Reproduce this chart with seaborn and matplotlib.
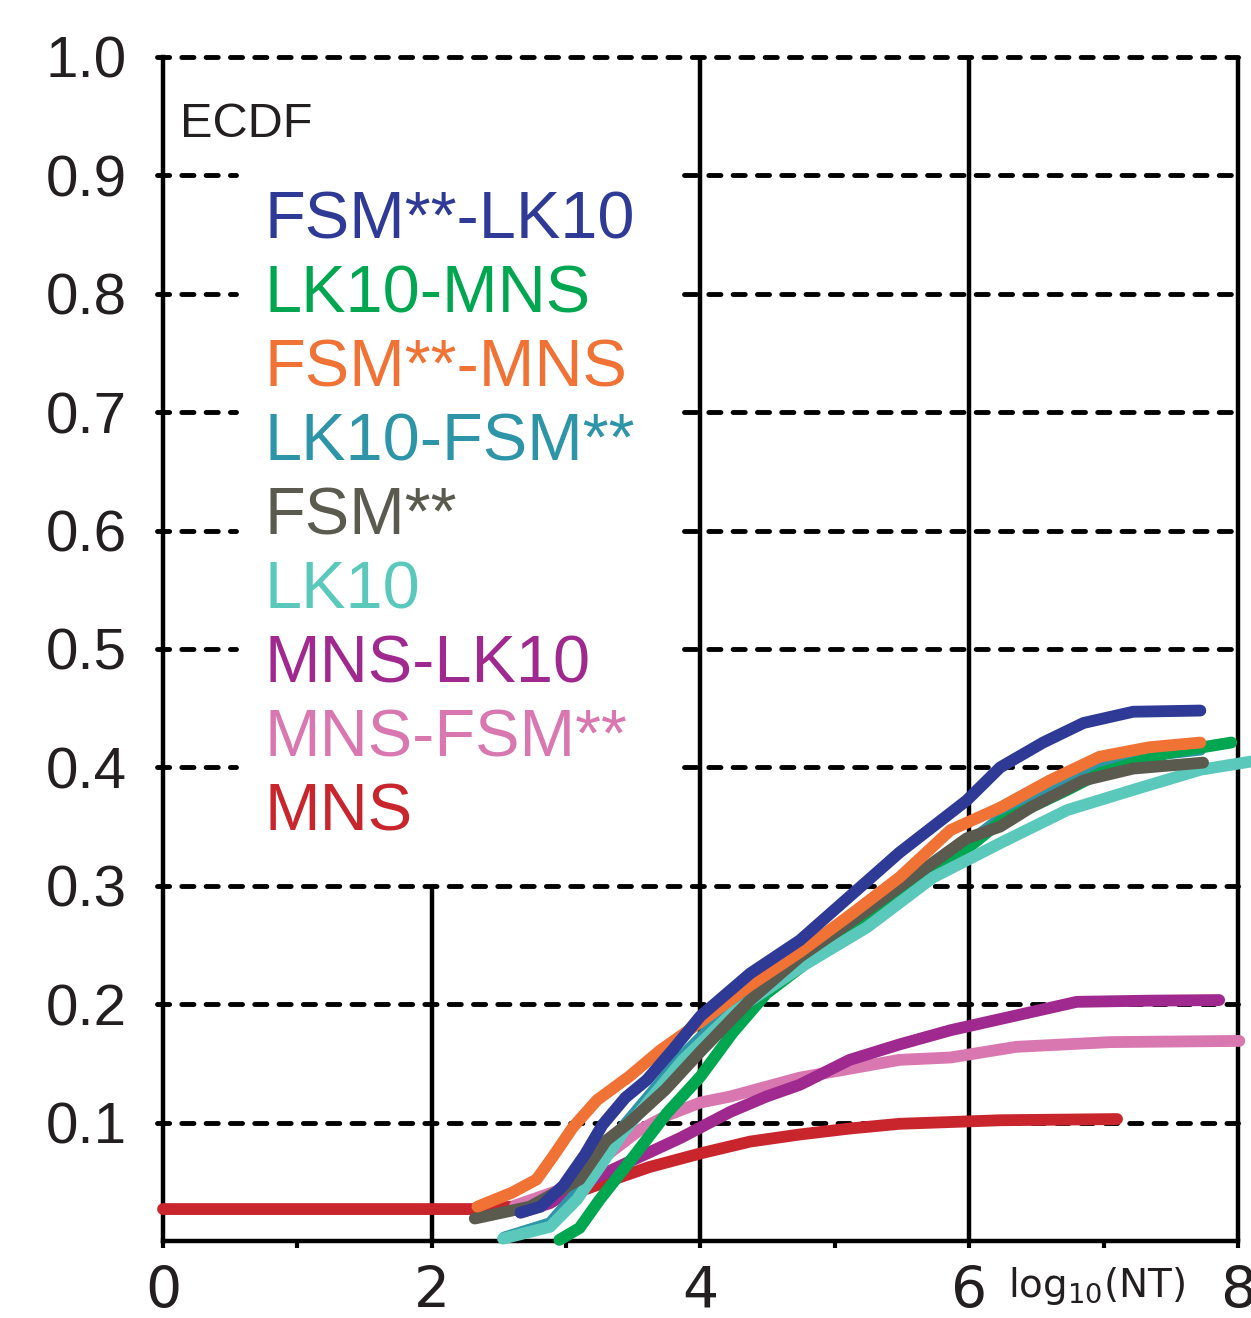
import matplotlib
matplotlib.use("Agg")
import matplotlib.pyplot as plt
import seaborn as sns
import pandas as pd

# values (x = log10(NT), y = ECDF)
fsm_lk10_x = [2.66, 2.81, 2.98, 3.14, 3.27, 3.44, 3.60, 3.79, 4.00, 4.37, 4.74, 5.11, 5.48, 5.98, 6.23, 6.55, 6.85, 7.22, 7.72]
fsm_lk10_y = [0.024, 0.029, 0.047, 0.073, 0.098, 0.121, 0.136, 0.161, 0.190, 0.226, 0.254, 0.291, 0.328, 0.372, 0.400, 0.421, 0.4375, 0.447, 0.448]

lk10_mns_x = [2.95, 3.10, 3.25, 3.50, 3.75, 4.00, 4.24, 4.49, 4.87, 5.24, 5.61, 5.98, 6.23, 6.73, 6.97, 7.47, 7.95]
lk10_mns_y = [0.001, 0.011, 0.035, 0.071, 0.108, 0.139, 0.176, 0.209, 0.242, 0.271, 0.301, 0.331, 0.354, 0.381, 0.395, 0.412, 0.421]

fsm_mns_x = [2.34, 2.60, 2.78, 2.90, 3.05, 3.23, 3.47, 3.70, 4.00, 4.37, 4.74, 5.11, 5.48, 5.86, 6.23, 6.60, 6.97, 7.34, 7.72]
fsm_mns_y = [0.029, 0.041, 0.052, 0.071, 0.096, 0.119, 0.139, 0.161, 0.185, 0.216, 0.244, 0.275, 0.307, 0.347, 0.366, 0.389, 0.409, 0.417, 0.421]

lk10_fsm_x = [2.54, 2.88, 3.08, 3.25, 3.42, 3.62, 3.87, 4.24, 4.74, 5.24, 5.73, 6.23, 6.60, 6.97, 7.34, 7.72]
lk10_fsm_y = [0.003, 0.015, 0.041, 0.068, 0.096, 0.123, 0.157, 0.199, 0.237, 0.273, 0.313, 0.357, 0.384, 0.400, 0.410, 0.415]

fsm_x = [2.32, 2.73, 3.10, 3.30, 3.47, 3.74, 4.00, 4.37, 4.74, 5.11, 5.48, 5.98, 6.23, 6.47, 6.85, 7.22, 7.74]
fsm_y = [0.019, 0.029, 0.052, 0.085, 0.100, 0.128, 0.160, 0.2035, 0.240, 0.269, 0.299, 0.340, 0.350, 0.367, 0.389, 0.399, 0.404]

lk10_x = [2.53, 2.88, 3.08, 3.25, 3.42, 3.62, 3.87, 4.24, 4.74, 5.24, 5.73, 6.23, 6.73, 7.22, 7.72, 8.10]
lk10_y = [0.002, 0.012, 0.035, 0.0625, 0.091, 0.119, 0.153, 0.193, 0.231, 0.265, 0.307, 0.336, 0.364, 0.381, 0.398, 0.405]

mns_lk10_x = [2.66, 2.88, 3.10, 3.47, 3.85, 4.22, 4.49, 4.74, 5.11, 5.48, 5.86, 6.80, 7.34, 7.86]
mns_lk10_y = [0.024, 0.032, 0.047, 0.067, 0.087, 0.109, 0.122, 0.132, 0.153, 0.166, 0.178, 0.202, 0.203, 0.2035]

mns_fsm_x = [2.62, 2.95, 3.25, 3.55, 3.75, 4.00, 4.22, 4.74, 5.48, 5.86, 6.35, 7.05, 8.01]
mns_fsm_y = [0.030, 0.043, 0.068, 0.094, 0.106, 0.117, 0.122, 0.138, 0.153, 0.155, 0.164, 0.168, 0.169]

mns_x = [0.00, 2.32, 2.73, 2.95, 3.25, 3.62, 4.00, 4.37, 4.74, 5.11, 5.48, 5.86, 6.23, 7.10]
mns_y = [0.027, 0.027, 0.030, 0.036, 0.048, 0.0625, 0.074, 0.084, 0.090, 0.095, 0.099, 0.1005, 0.102, 0.103]

labels = ["FSM**-LK10", "LK10-MNS", "FSM**-MNS", "LK10-FSM**", "FSM**",
          "LK10", "MNS-LK10", "MNS-FSM**", "MNS"]
colors = ["#2e3a96", "#00a650", "#f07235", "#2e94a8", "#5a5a4e",
          "#5bc8bc", "#a0298f", "#d977b0", "#c9252c"]
curves = {
    "FSM**-LK10": (fsm_lk10_x, fsm_lk10_y),
    "LK10-MNS": (lk10_mns_x, lk10_mns_y),
    "FSM**-MNS": (fsm_mns_x, fsm_mns_y),
    "LK10-FSM**": (lk10_fsm_x, lk10_fsm_y),
    "FSM**": (fsm_x, fsm_y),
    "LK10": (lk10_x, lk10_y),
    "MNS-LK10": (mns_lk10_x, mns_lk10_y),
    "MNS-FSM**": (mns_fsm_x, mns_fsm_y),
    "MNS": (mns_x, mns_y),
}
# bottom-to-top drawing order
draw_order = ["MNS", "MNS-FSM**", "MNS-LK10", "LK10-FSM**", "LK10-MNS",
              "LK10", "FSM**", "FSM**-MNS", "FSM**-LK10"]

sns.set_style("white")
plt.rcParams['font.family'] = ['Liberation Sans', 'DejaVu Sans']
text_col = "#231f20"

fig = plt.figure(figsize=(12.51, 13.18), dpi=100)
ax = fig.add_axes([0.1303, 0.0584, 0.8593, 0.8984])
ax.set_xlim(0, 8)
ax.set_ylim(0, 1.0)

# grid: dashed horizontals, broken behind the label block for 0.4-0.9
dash_kw = dict(color="black", lw=3.5, linestyle=(0, (2.5, 2.5)), capstyle="round", clip_on=False, zorder=1)
for yv in [0.1, 0.2, 0.3, 1.0]:
    ax.hlines(yv, -0.045, 8, **dash_kw)
for yv in [0.4, 0.5, 0.6, 0.7, 0.8, 0.9]:
    ax.hlines(yv, -0.045, 0.54, **dash_kw)
    ax.hlines(yv, 3.88, 8, **dash_kw)

# solid verticals
ax.vlines(2, 0, 0.3, color="black", lw=3.2, zorder=1)
for xv in [4, 6, 8]:
    ax.vlines(xv, 0, 1.0, color="black", lw=3.2, zorder=1, clip_on=False)

for name in draw_order:
    xs, ys = curves[name]
    df = pd.DataFrame({"x": xs, "y": ys})
    sns.lineplot(data=df, x="x", y="y", ax=ax, color=colors[labels.index(name)],
                 linewidth=8.5, estimator=None, sort=False, zorder=3)
for line in ax.get_lines():
    line.set_linewidth(8.5)
    line.set_solid_capstyle("round")
    line.set_solid_joinstyle("round")
    line.set_clip_on(False)

# axes styling
for side in ["top", "right"]:
    ax.spines[side].set_visible(False)
for side in ["left", "bottom"]:
    ax.spines[side].set_color("black")
    ax.spines[side].set_linewidth(3.2)

ax.set_xticks([0, 2, 4, 6, 8])
ax.set_xticks([1, 3, 5, 7], minor=True)
ax.set_xticklabels(["0", "2", "4", "6", "8"], fontsize=41, color=text_col, family="DejaVu Sans")
ax.tick_params(axis="x", which="both", direction="out", length=5, width=3, color="black", pad=12, bottom=True)
ax.set_yticks([0.1, 0.2, 0.3, 0.4, 0.5, 0.6, 0.7, 0.8, 0.9, 1.0])
ax.set_yticklabels(["0.1", "0.2", "0.3", "0.4", "0.5", "0.6", "0.7", "0.8", "0.9", "1.0"],
                   fontsize=42, color=text_col)
ax.tick_params(axis="y", length=0, pad=26)
ax.set_xlabel("")
ax.set_ylabel("")

ax.text(0.126, 0.932, "ECDF", fontsize=35, color=text_col, va="baseline", ha="left")
ax.text(6.29, -0.047, r"log$_{10}$(NT)", fontsize=28, color=text_col, va="baseline",
        ha="left", family="DejaVu Sans", clip_on=False)

# coloured label block
for i, (lab, col) in enumerate(zip(labels, colors)):
    ax.text(0.755, 0.8463 - i * 0.0624, lab, color=col, fontsize=48, va="baseline",
            ha="left")

fig.savefig("out.png", dpi=100)
